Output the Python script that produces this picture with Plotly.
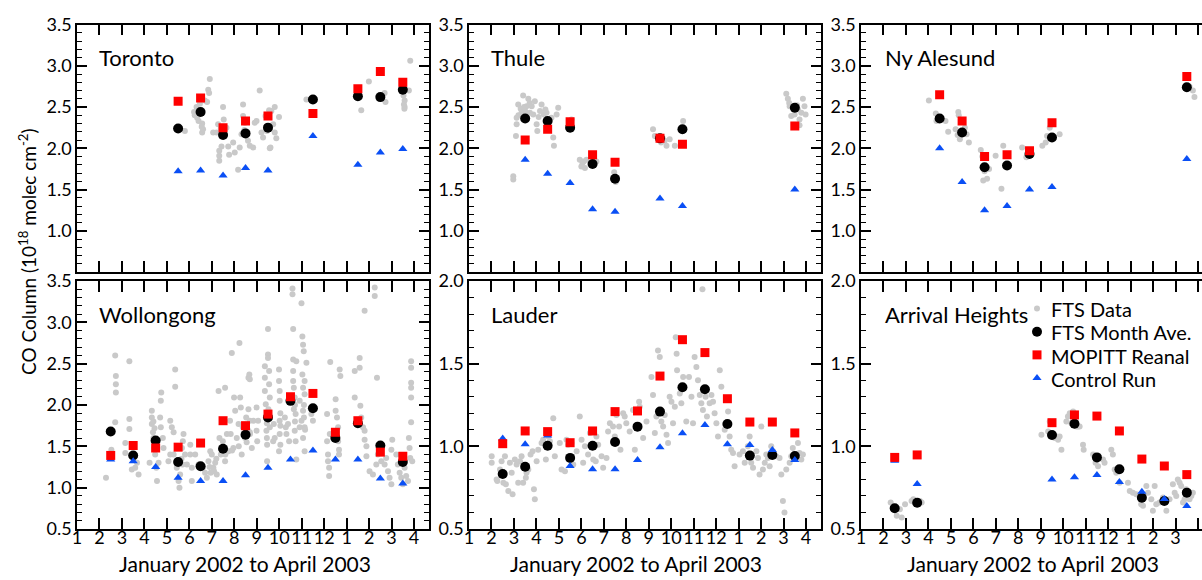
import plotly.graph_objects as go

# ---------------- data ----------------
MONTH_TICKS = list(range(1, 17))
MONTH_LABELS = ['1', '2', '3', '4', '5', '6', '7', '8', '9', '10', '11', '12', '1', '2', '3', '4']

STATIONS = ['Toronto', 'Thule', 'Ny Alesund', 'Wollongong', 'Lauder', 'Arrival Heights']
SERIES_NAMES = ['FTS Data', 'FTS Month Ave.', 'MOPITT Reanal', 'Control Run']
X_TITLE = 'January 2002 to April 2003'
Y_TITLE = 'CO Column (10<sup>18</sup> molec cm<sup>-2</sup>)'

# Toronto
TOR_AVE_X = [5.5, 6.5, 7.5, 8.5, 9.5, 11.5, 13.5, 14.5, 15.5]
TOR_FTS_AVE = [2.24, 2.44, 2.16, 2.18, 2.25, 2.59, 2.63, 2.62, 2.71]
TOR_MOPITT = [2.57, 2.61, 2.25, 2.33, 2.39, 2.42, 2.72, 2.93, 2.80]
TOR_CONTROL = [1.72, 1.73, 1.67, 1.76, 1.73, 2.15, 1.80, 1.95, 1.99]
TOR_FTS_X = [5.80, 6.21, 6.24, 6.32, 6.41, 6.47, 6.57, 6.57, 6.61, 6.69, 6.79, 6.84, 6.88, 6.91,
             7.06, 7.21, 7.28, 7.33, 7.33, 7.33, 7.43, 7.50, 7.53, 7.65, 7.73, 7.77, 7.95, 8.02,
             8.17, 8.24, 8.32, 8.39, 8.39, 8.47, 8.61, 8.69, 8.84, 8.91, 8.99, 9.13, 9.21, 9.28,
             9.39, 9.55, 9.58, 9.61, 9.73, 9.80, 9.80, 9.87, 9.99, 11.21, 11.39, 13.65, 13.99,
             14.69, 14.73, 15.53, 15.58, 15.58, 15.77, 15.83, 6.35, 6.55, 7.40, 8.45, 9.45, 9.65,
             15.55, 15.57]
TOR_FTS_Y = [2.21, 2.44, 2.40, 2.50, 2.33, 2.54, 2.30, 2.19, 2.23, 2.58, 2.56, 2.71, 2.67, 2.84,
             2.19, 2.19, 2.29, 1.97, 1.91, 1.85, 2.02, 2.50, 2.35, 2.25, 2.02, 1.92, 2.07, 1.95,
             1.74, 2.01, 2.17, 2.53, 2.39, 2.31, 2.09, 2.03, 2.01, 2.31, 2.33, 2.70, 2.19, 2.13,
             2.39, 2.46, 2.00, 2.01, 2.29, 2.50, 2.19, 2.12, 2.38, 2.59, 2.59, 2.46, 2.81,
             2.67, 2.56, 2.64, 2.58, 2.50, 2.70, 3.06, 2.37, 2.26, 2.24, 2.22, 2.21, 2.45,
             2.53, 2.48]

# Thule
THU_AVE_X = [3.5, 4.5, 5.5, 6.5, 7.5, 9.5, 10.5, 15.5]
THU_FTS_AVE = [2.36, 2.33, 2.25, 1.81, 1.63, 2.12, 2.23, 2.49]
THU_MOPITT = [2.10, 2.23, 2.32, 1.92, 1.83, 2.12, 2.05, 2.27]
THU_CONTROL = [1.86, 1.69, 1.58, 1.26, 1.23, 1.39, 1.30, 1.50]
THU_FTS_X = [2.97, 2.97, 3.09, 3.12, 3.12, 3.19, 3.34, 3.41, 3.56, 3.64, 3.71, 3.79, 3.86, 3.93,
             4.01, 4.04, 4.16, 4.23, 4.33, 4.45, 4.57, 4.67, 4.75, 4.78, 4.90, 4.97, 5.49, 5.56,
             5.93, 6.05, 6.16, 6.23, 6.67, 7.46, 7.53, 9.19, 9.27, 9.49, 9.71, 9.79, 9.93, 10.16,
             10.53, 15.12, 15.19, 15.27, 15.34, 15.49, 15.64, 15.71, 15.79, 15.86, 15.93, 15.98,
             15.71, 3.30, 3.50, 3.70, 4.10, 4.40, 3.20, 3.45, 6.00, 6.10, 9.55, 9.62, 15.25, 15.60]
THU_FTS_Y = [1.62, 1.66, 2.15, 2.29, 2.37, 2.53, 2.43, 2.64, 2.51, 2.60, 2.43, 2.51, 2.41, 2.57,
             2.29, 2.21, 2.45, 2.53, 2.41, 2.43, 2.33, 2.37, 2.13, 2.03, 2.41, 2.49, 2.27, 2.35,
             1.86, 1.82, 1.76, 1.86, 1.84, 1.71, 1.59, 2.23, 2.15, 2.11, 2.09, 2.03, 2.11, 2.03,
             2.33, 2.66, 2.60, 2.51, 2.39, 2.41, 2.47, 2.35, 2.43, 2.60, 2.51, 2.41,
             2.28, 2.48, 2.45, 2.55, 2.38, 2.47, 2.40, 2.50, 1.78, 1.84, 2.07, 2.12, 2.55, 2.52]

# Ny Alesund
NYA_AVE_X = [4.5, 5.5, 6.5, 7.5, 8.5, 9.5, 15.5]
NYA_FTS_AVE = [2.36, 2.19, 1.77, 1.79, 1.93, 2.13, 2.74]
NYA_MOPITT = [2.65, 2.33, 1.90, 1.92, 1.97, 2.31, 2.87]
NYA_CONTROL = [2.00, 1.59, 1.25, 1.30, 1.50, 1.53, 1.87]
NYA_FTS_X = [4.02, 4.33, 4.36, 4.76, 4.88, 5.21, 5.33, 5.40, 5.62, 5.70, 5.80, 6.33, 6.44, 6.61,
             6.70, 6.99, 7.25, 7.33, 8.17, 8.36, 9.07, 9.22, 9.28, 9.40, 9.84, 15.62, 15.77, 15.84,
             4.45, 5.30, 6.50, 7.48, 8.50, 9.50, 5.35, 6.40]
NYA_FTS_Y = [2.58, 2.42, 2.33, 2.33, 2.20, 2.23, 2.44, 2.11, 2.25, 2.17, 2.07, 1.98, 1.61, 1.63,
             1.75, 1.91, 1.51, 2.03, 2.01, 1.89, 2.03, 2.07, 2.15, 2.25, 2.17, 2.75, 2.70, 2.62,
             2.38, 2.16, 1.72, 1.80, 1.91, 2.15, 2.40, 1.90]

# Wollongong
WOL_AVE_X = [2.5, 3.5, 4.5, 5.5, 6.5, 7.5, 8.5, 9.5, 10.5, 11.5, 12.5, 13.5, 14.5, 15.5]
WOL_FTS_AVE = [1.68, 1.39, 1.57, 1.31, 1.26, 1.47, 1.64, 1.85, 2.05, 1.96, 1.60, 1.78, 1.51, 1.31]
WOL_MOPITT = [1.39, 1.51, 1.48, 1.49, 1.54, 1.81, 1.75, 1.89, 2.10, 2.14, 1.67, 1.81, 1.43, 1.38]
WOL_CONTROL = [1.34, 1.32, 1.25, 1.12, 1.08, 1.08, 1.15, 1.24, 1.34, 1.45, 1.34, 1.34, 1.11, 1.05]
WOL_FTS_X = [2.29, 2.48, 2.53, 2.70, 2.73, 2.73, 2.73, 2.70,
             3.15, 3.15, 3.33, 3.33, 3.33, 3.44, 3.59, 3.74, 3.67,
             4.23, 4.33, 4.33, 4.33, 4.38, 4.41, 4.44, 4.48, 4.53, 4.56, 4.63, 4.70, 4.73, 4.73, 4.75,
             4.82, 4.85,
             5.15, 5.22, 5.30, 5.37, 5.37, 5.15, 5.07, 5.30, 5.44, 5.52, 5.56, 5.59, 5.67, 5.71, 5.74,
             5.81, 5.89, 6.04, 6.11, 6.04, 6.11,
             6.26, 6.41, 6.60, 6.70, 6.78, 6.85, 6.93, 7.00, 7.07, 7.15, 7.22, 7.30, 7.34, 7.40, 7.49,
             7.59, 7.59, 7.67, 7.74, 7.81, 7.84, 7.89, 7.96, 7.99, 8.04, 8.11, 8.19, 8.23, 8.26, 8.29,
             8.33, 8.38, 8.48, 8.53, 8.63, 8.63, 8.67, 8.70, 8.78, 8.85,
             8.69, 8.69, 8.69, 8.99, 8.99, 9.02, 9.06,
             9.36, 9.36, 9.36, 9.40, 9.43, 9.43, 9.46, 9.46, 9.50, 9.50, 9.50, 9.55, 9.55, 9.58, 9.58,
             9.73, 9.76, 9.80,
             9.99, 9.99, 10.02, 10.02, 10.02, 10.02, 9.99, 10.05,
             10.25, 10.29, 10.32, 10.39, 10.44,
             10.59, 10.59, 10.62, 10.62, 10.62, 10.62, 10.65, 10.69, 10.69, 10.73, 10.76, 10.73, 10.76,
             10.99, 11.03, 11.06, 11.09, 11.13, 11.06, 11.13, 11.06, 10.99, 11.13, 11.06, 11.13, 11.21,
             10.91, 11.03, 10.91,
             11.43, 11.50,
             12.13, 12.13, 12.17, 12.17, 12.22, 12.22, 12.27, 12.25,
             12.51, 12.51, 12.57, 12.62, 12.62, 12.66, 12.69, 12.72, 12.66,
             13.36, 13.36, 13.58, 13.58, 13.61, 13.65, 13.73, 13.80, 13.80, 13.88, 13.88, 13.80, 14.35,
             14.25, 14.25, 14.02, 14.17, 14.32, 14.39, 14.54, 14.69, 14.76, 14.84, 14.91, 14.99, 15.03,
             14.99, 15.21, 15.28, 15.36, 15.43, 15.50, 15.58, 15.65, 15.73, 15.77, 15.80, 15.83, 15.87,
             15.87, 15.87, 15.87, 15.87, 15.87, 15.92,
             9.45, 9.45, 9.52, 10.05, 10.05, 10.65, 10.70, 10.70, 11.10, 11.10, 11.15, 8.60, 8.55,
             8.20, 7.90, 7.60, 7.20, 7.10, 6.90, 6.95, 5.65, 5.70, 4.40, 4.45, 4.40]
WOL_FTS_Y = [1.12, 1.39, 1.46, 2.60, 2.35, 2.25, 2.15, 1.79,
             1.54, 1.42, 2.53, 1.83, 1.71, 1.22, 1.24, 1.16, 1.30,
             1.30, 1.93, 1.85, 1.77, 1.67, 1.56, 1.48, 1.40, 1.24, 1.08, 1.30, 1.85, 1.73, 2.05, 2.15,
             1.60, 1.48,
             1.81, 1.73, 1.67, 2.43, 2.22, 1.40, 1.32, 1.40, 1.24, 1.08, 1.00, 1.16, 1.48, 1.56, 1.65,
             1.40, 1.28, 1.52, 1.24, 1.40, 1.08,
             1.40, 1.28, 1.24, 1.18, 1.12, 1.32, 1.44, 1.40, 1.24, 1.30, 1.16, 2.17, 1.60, 1.40, 1.56,
             2.21, 1.32, 1.65, 1.44, 1.81, 1.65, 2.63, 1.48, 2.09, 1.93, 1.60, 1.77, 2.75, 2.09, 1.97,
             1.40, 1.73, 1.60, 1.85, 1.95, 2.33, 2.37, 1.65, 1.48, 1.81,
             2.31, 1.81, 1.67, 1.97, 1.69, 1.56, 1.81,
             2.47, 2.33, 2.17, 2.01, 1.85, 1.69, 1.52, 1.32, 2.92, 2.61, 2.57, 2.41, 2.25, 2.09, 1.73,
             1.56, 1.77, 1.60,
             2.43, 2.29, 2.17, 2.05, 1.81, 1.65, 1.44, 1.52,
             1.85, 1.73, 1.65, 1.77, 1.56,
             3.41, 3.34, 2.92, 2.55, 2.41, 2.29, 2.21, 2.09, 1.69, 1.56, 1.34, 1.89, 2.53,
             3.23, 2.83, 2.73, 2.65, 2.29, 2.21, 2.13, 1.93, 1.81, 1.73, 1.60, 1.44, 2.51,
             2.05, 2.37, 1.73,
             1.89, 1.81,
             1.89, 1.56, 1.40, 1.32, 1.24, 1.14, 2.52, 1.65,
             2.07, 1.93, 1.85, 1.73, 1.56, 1.46, 2.43, 2.35, 1.40,
             2.09, 2.41, 2.57, 2.45, 1.99, 1.85, 1.73, 1.69, 1.58, 1.50, 1.38, 3.14, 2.33,
             3.42, 3.32, 1.20, 1.16, 1.28, 1.40, 1.32, 1.28, 1.36, 1.20, 1.12, 1.04, 1.58,
             1.46, 1.40, 1.28, 1.18, 1.12, 1.04, 1.24, 1.14, 1.08, 1.60, 1.48, 1.36, 2.53,
             2.45, 2.27, 2.21, 2.09, 1.79, 1.32,
             1.60, 1.78, 1.95, 1.90, 1.75, 1.95, 1.80, 2.00, 2.00, 1.85, 1.70, 1.70, 1.55,
             1.50, 1.45, 1.40, 1.35, 1.20, 1.25, 1.18, 1.35, 1.28, 1.60, 1.72, 1.80]

# Lauder
LAU_AVE_X = [2.5, 3.5, 4.5, 5.5, 6.5, 7.5, 8.5, 9.5, 10.5, 11.5, 12.5, 13.5, 14.5, 15.5]
LAU_FTS_AVE = [0.833, 0.877, 1.004, 0.930, 1.004, 1.026, 1.119, 1.210, 1.357, 1.345, 1.135, 0.944,
               0.948, 0.942]
LAU_MOPITT = [1.016, 1.093, 1.089, 1.022, 1.093, 1.210, 1.214, 1.425, 1.645, 1.567, 1.288, 1.147,
              1.147, 1.081]
LAU_CONTROL = [1.048, 1.012, 1.065, 0.881, 0.861, 0.861, 0.917, 0.994, 1.079, 1.129, 1.012, 1.008,
               0.978, 0.917]
LAU_FTS_X = [2.01, 2.01, 2.23, 2.26, 2.38, 2.45, 2.53, 2.60, 2.64, 2.75, 2.82, 2.90, 2.94, 3.04,
             3.12, 3.19, 3.27, 3.34, 3.41, 3.53, 3.56, 3.64, 3.74, 3.83, 3.89, 3.93, 4.01, 4.08,
             4.23, 4.30, 4.42, 4.53, 4.60, 4.75, 4.82, 5.04, 5.12, 5.27, 5.34, 5.41, 5.56, 5.64,
             5.79, 5.93, 6.01, 6.08, 6.16, 6.30, 6.38, 6.53, 6.64, 6.67, 6.75, 6.90, 6.97, 7.12,
             7.19, 7.27, 7.41, 7.49, 7.56, 7.68, 7.74, 7.86, 7.93, 8.00, 8.15, 8.30, 8.38, 8.45,
             8.57, 8.60, 8.75, 8.90, 9.12, 9.19, 9.27, 9.34, 9.41, 9.49, 9.56, 9.64, 9.71, 9.79,
             9.86, 9.93, 10.01, 10.08, 10.16, 10.20, 10.24, 10.26, 10.38, 10.45, 10.53, 10.67,
             10.79, 10.90, 10.97, 11.04, 11.12, 11.19, 11.27, 11.34, 11.39, 11.41, 11.53, 11.59,
             11.71, 11.79, 11.86, 11.93, 12.01, 12.08, 12.16, 12.23, 12.38, 12.53, 12.60, 12.67,
             12.75, 12.82, 13.04, 13.19, 13.27, 13.41, 13.49, 13.56, 13.64, 13.79, 13.86, 13.93,
             14.01, 14.08, 14.16, 14.23, 14.30, 14.38, 14.45, 14.53, 14.67, 14.82, 14.90, 14.97,
             15.04, 15.12, 15.27, 15.34, 15.41, 15.56, 15.64, 15.71, 15.79, 15.86]
LAU_FTS_Y = [0.94, 0.90, 0.80, 0.79, 0.86, 0.91, 0.78, 0.94, 0.77, 0.73, 0.90, 0.84, 0.71, 0.92,
             0.89, 0.78, 0.91, 0.94, 0.78, 0.81, 0.84, 0.86, 0.95, 0.97, 0.74, 0.68, 0.91, 0.98,
             1.02, 1.04, 0.92, 1.06, 1.03, 1.17, 0.94, 1.02, 0.86, 0.85, 1.04, 1.01, 1.02, 0.89,
             0.97, 1.18, 1.04, 0.90, 1.00, 0.95, 1.08, 0.92, 0.91, 1.06, 1.01, 0.94, 0.87, 0.93,
             1.09, 1.14, 1.12, 1.06, 1.19, 1.12, 0.98, 1.20, 1.18, 1.14, 1.09, 1.22, 0.98, 1.11,
             1.27, 1.24, 1.05, 1.15, 1.42, 1.31, 1.08, 1.18, 1.58, 1.54, 1.15, 1.12, 1.19, 1.07,
             1.02, 1.30, 1.27, 1.14, 1.24, 1.66, 1.56, 1.46, 1.32, 1.26, 1.42, 1.15,
             1.42, 1.30, 1.14, 1.54, 1.48, 1.40, 1.31, 1.26, 1.95, 1.22, 1.30, 1.18,
             1.26, 1.31, 1.27, 1.20, 1.14, 1.06, 1.46, 1.36, 1.10, 1.21, 1.06, 0.98,
             0.96, 0.88, 0.95, 0.97, 0.90, 1.00, 1.06, 0.90, 0.87, 0.97, 0.93, 0.83,
             1.12, 0.86, 0.90, 0.95, 0.93, 0.88, 1.00, 0.97, 0.94, 0.93, 0.83, 0.67,
             0.60, 0.86, 0.90, 0.94, 0.99, 0.95, 1.02, 0.96, 0.92, 0.95]

# Arrival Heights
ARH_AVE_X = [2.5, 3.5, 9.5, 10.5, 11.5, 12.5, 13.5, 14.5, 15.5]
ARH_FTS_AVE = [0.625, 0.659, 1.069, 1.137, 0.933, 0.861, 0.689, 0.669, 0.720]
ARH_MOPITT = [0.933, 0.948, 1.143, 1.190, 1.183, 1.093, 0.923, 0.881, 0.829]
ARH_CONTROL = [0.913, 0.772, 0.800, 0.813, 0.827, 0.784, 0.726, 0.682, 0.639]
ARH_FTS_X = [2.32, 2.41, 2.59, 2.73, 2.81, 2.96, 3.25, 3.33, 3.62, 3.70,
             9.03, 9.33, 9.40, 9.47, 9.62, 9.70, 9.77, 9.84, 9.92, 10.14, 10.21, 10.29, 10.36, 10.44,
             10.51, 10.59, 10.66, 10.73, 10.88, 10.91, 11.33, 11.44, 11.55, 11.77, 11.84, 12.14,
             12.21, 12.29, 12.36, 12.44, 12.51, 12.88, 12.96, 13.10, 13.25, 13.47, 13.55, 13.70,
             13.77, 13.92, 13.99, 14.07, 14.14, 14.29, 14.44, 14.59, 14.73, 14.88, 14.96, 15.03,
             15.10, 15.18, 15.25, 15.33, 15.40, 15.47, 15.62, 15.70, 15.77]
ARH_FTS_Y = [0.66, 0.63, 0.58, 0.62, 0.57, 0.65, 0.67, 0.68, 0.67, 0.66,
             1.07, 1.09, 1.15, 1.06, 1.05, 1.06, 1.04, 1.06, 0.98, 1.15, 1.18, 1.20, 1.14, 1.21,
             1.15, 1.12, 1.12, 1.12, 1.01, 0.98, 0.95, 0.90, 0.88, 0.92, 0.90, 0.98,
             0.95, 0.86, 0.84, 0.86, 0.78, 0.78, 0.73, 0.72, 0.71, 0.65, 0.64, 0.76,
             0.72, 0.68, 0.61, 0.76, 0.65, 0.66, 0.69, 0.61, 0.68, 0.77, 0.72, 0.70,
             0.80, 0.78, 0.76, 0.66, 0.68, 0.74, 0.68, 0.70, 0.72]

PANELS = [
    (TOR_FTS_X, TOR_FTS_Y, TOR_AVE_X, TOR_FTS_AVE, TOR_MOPITT, TOR_CONTROL),
    (THU_FTS_X, THU_FTS_Y, THU_AVE_X, THU_FTS_AVE, THU_MOPITT, THU_CONTROL),
    (NYA_FTS_X, NYA_FTS_Y, NYA_AVE_X, NYA_FTS_AVE, NYA_MOPITT, NYA_CONTROL),
    (WOL_FTS_X, WOL_FTS_Y, WOL_AVE_X, WOL_FTS_AVE, WOL_MOPITT, WOL_CONTROL),
    (LAU_FTS_X, LAU_FTS_Y, LAU_AVE_X, LAU_FTS_AVE, LAU_MOPITT, LAU_CONTROL),
    (ARH_FTS_X, ARH_FTS_Y, ARH_AVE_X, ARH_FTS_AVE, ARH_MOPITT, ARH_CONTROL),
]
Y_RANGES = [(0.5, 3.5), (0.5, 3.5), (0.5, 3.5), (0.5, 3.5), (0.5, 2.0), (0.5, 2.0)]

# ---------------- layout geometry ----------------
W, H = 1202, 580
FONT = 'Lato, "Open Sans", sans-serif'
COL_LEFT = [77, 469, 861]
COL_RIGHT = [429, 821, 1202]
ROW_TOP = [24.5, 281]
ROW_BOT = [272, 529]
PX_PER_MONTH = 22.47

GREY = '#c9c9c9'
RED = '#ff0000'
BLUE = '#0a4ff5'
MARKERS = [dict(symbol='circle', size=6, color=GREY),
           dict(symbol='circle', size=10, color='black'),
           dict(symbol='square', size=9, color=RED),
           dict(symbol='triangle-up', size=8, color=BLUE)]

fig = go.Figure()

for i, (fx, fy, ax, ave, mop, ctl) in enumerate(PANELS):
    n = i + 1
    xr = 'x' if n == 1 else f'x{n}'
    yr = 'y' if n == 1 else f'y{n}'
    fig.add_trace(go.Scatter(x=fx, y=fy, mode='markers', xaxis=xr, yaxis=yr,
                             name=SERIES_NAMES[0], showlegend=False, marker=MARKERS[0]))
    fig.add_trace(go.Scatter(x=ax, y=ave, mode='markers', xaxis=xr, yaxis=yr,
                             name=SERIES_NAMES[1], showlegend=False, marker=MARKERS[1]))
    fig.add_trace(go.Scatter(x=ax, y=ctl, mode='markers', xaxis=xr, yaxis=yr,
                             name=SERIES_NAMES[3], showlegend=False, marker=MARKERS[3]))
    fig.add_trace(go.Scatter(x=ax, y=mop, mode='markers', xaxis=xr, yaxis=yr,
                             name=SERIES_NAMES[2], showlegend=False, marker=MARKERS[2]))

# legend symbols (labels are written as annotations so the row spacing matches)
for k in range(4):
    fig.add_trace(go.Scatter(x=[None], y=[None], mode='markers', xaxis='x6', yaxis='y6',
                             name='', legendrank=k + 1, showlegend=True, marker=MARKERS[k]))

layout = {}
annotations = []
for i in range(6):
    n = i + 1
    row, col = divmod(i, 3)
    xkey = 'xaxis' if n == 1 else f'xaxis{n}'
    ykey = 'yaxis' if n == 1 else f'yaxis{n}'
    left, right = COL_LEFT[col], COL_RIGHT[col]
    top, bot = ROW_TOP[row], ROW_BOT[row]
    xmax = 1 + (right - left) / PX_PER_MONTH
    layout[xkey] = dict(
        domain=[left / W, right / W], range=[1, xmax],
        anchor='y' if n == 1 else f'y{n}',
        tickmode='array', tickvals=MONTH_TICKS, ticktext=MONTH_LABELS, tickangle=0,
        ticks='inside', ticklen=11, tickwidth=1.5, tickcolor='black',
        showline=True, linecolor='black', linewidth=1.5, mirror='allticks',
        showgrid=False, zeroline=False, showticklabels=(row == 1),
        ticklabelstandoff=-8, automargin=False,
        tickfont=dict(family=FONT, size=18, color='black'),
    )
    y0, y1 = Y_RANGES[i]
    ydict = dict(
        domain=[1 - bot / H, 1 - top / H], range=[y0, y1],
        anchor='x' if n == 1 else f'x{n}',
        tickmode='linear', tick0=0.5, dtick=0.5, tickformat='.1f',
        ticks='inside', ticklen=10, tickwidth=1.5, tickcolor='black',
        minor=dict(tick0=0.5, dtick=0.1, ticks='inside', ticklen=5,
                   tickwidth=1.2, tickcolor='black', showgrid=False),
        showline=True, linecolor='black', linewidth=1.5,
        mirror=('allticks' if col < 2 else False),
        showgrid=False, zeroline=False, automargin=False,
        tickfont=dict(family=FONT, size=18, color='black'),
    )
    if row == 0:
        ydict['labelalias'] = {'0.5': ''}
    layout[ykey] = ydict
    off = 20 if col < 2 else 22
    annotations.append(dict(
        text=STATIONS[i], xref=f'x{"" if n == 1 else n} domain', yref=f'y{"" if n == 1 else n} domain',
        x=off / (right - left), y=0.865, xanchor='left', yanchor='middle', showarrow=False,
        font=dict(family=FONT, size=22, color='black')))

for cx in [245, 636, 1033]:
    annotations.append(dict(text=X_TITLE, xref='paper', yref='paper', x=cx / W, y=1 - 563 / H,
                            xanchor='center', yanchor='middle', showarrow=False,
                            font=dict(family=FONT, size=21, color='black')))

annotations.append(dict(text=Y_TITLE, xref='paper', yref='paper', x=27 / W, y=1 - 252 / H,
                        xanchor='center', yanchor='middle', textangle=-90, showarrow=False,
                        font=dict(family=FONT, size=19, color='black')))

LEGEND_TEXT_Y = [309, 332, 355.5, 379]
for k in range(4):
    annotations.append(dict(text=SERIES_NAMES[k], xref='paper', yref='paper',
                            x=1049 / W, y=1 - LEGEND_TEXT_Y[k] / H, height=22,
                            xanchor='left', yanchor='middle', valign='middle', showarrow=False,
                            font=dict(family=FONT, size=20, color='black')))

fig.update_layout(
    width=W, height=H, margin=dict(l=0, r=0, t=0, b=0, autoexpand=False),
    paper_bgcolor='white', plot_bgcolor='white',
    annotations=annotations,
    legend=dict(x=1017 / W, y=1 - 292 / H, xanchor='left', yanchor='top',
                bgcolor='rgba(0,0,0,0)', font=dict(family=FONT, size=15.5, color='black'),
                tracegroupgap=0, itemwidth=30),
    **layout,
)

fig.write_html('out.html')
